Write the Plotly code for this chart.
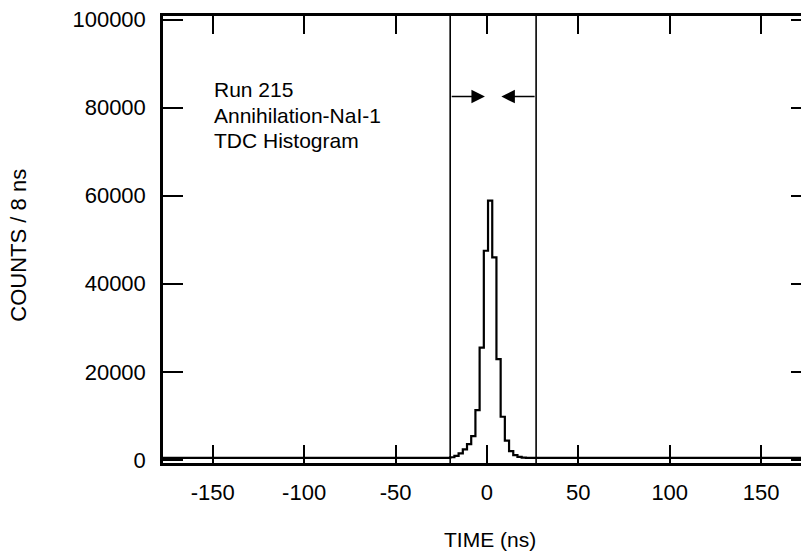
import plotly.graph_objects as go

# ---- data ----
bin_edges = [-177.2, -20.1, -17.8, -15.5, -13.2, -10.9, -8.6, -6.3, -4.0, -1.7, 0.6,
             2.9, 5.2, 7.5, 9.8, 12.1, 14.4, 16.7, 19.0, 21.3, 171.8]
counts = [450, 600, 900, 1500, 2400, 3600, 5400, 11300, 25500, 47500, 58900,
          46000, 22900, 9800, 4400, 2000, 1100, 700, 500, 450]
window_edges = [-20.1, 26.9]
arrow_tips = [-1.1, 7.9]
arrow_level = 82500
x_ticks = [-150, -100, -50, 0, 50, 100, 150]
x_tick_labels = ["-150", "-100", "-50", "0", "50", "100", "150"]
y_ticks = [0, 20000, 40000, 60000, 80000, 100000]
y_tick_labels = ["0", "20000", "40000", "60000", "80000", "100000"]
info_lines = ["Run 215", "Annihilation-NaI-1", "TDC Histogram"]
info_y = [84000, 78300, 72600]

FONT = "Liberation Sans, Arial, Helvetica, sans-serif"
FS = 21
TFS = 22

xs = list(bin_edges)
ys = list(counts) + [counts[-1]]

fig = go.Figure()
fig.add_trace(go.Scatter(x=xs, y=ys, mode="lines", line=dict(shape="hv", color="black", width=2.2),
                         showlegend=False, hoverinfo="skip"))
# invisible trace for right-side mirror ticks
fig.add_trace(go.Scatter(x=[xs[0]], y=[0], yaxis="y2", mode="markers", marker=dict(opacity=0),
                         showlegend=False, hoverinfo="skip"))

for xe in window_edges:
    fig.add_shape(type="line", xref="x", yref="paper", x0=xe, x1=xe, y0=0, y1=1,
                  line=dict(color="black", width=1.6))

for xe, tip in zip(window_edges, arrow_tips):
    fig.add_annotation(x=tip, y=arrow_level, ax=xe, ay=arrow_level, xref="x", yref="y",
                       axref="x", ayref="y", text="", showarrow=True, arrowhead=2,
                       arrowsize=1.8, arrowwidth=1.5, arrowcolor="black", standoff=0, startstandoff=0)

for t, yv in zip(info_lines, info_y):
    fig.add_annotation(x=-150.5, y=yv, xref="x", yref="y", text=t, showarrow=False,
                       xanchor="left", yanchor="middle", font=dict(family=FONT, size=FS, color="black"))

fig.add_annotation(x=0.5125, y=-0.172, xref="paper", yref="paper", text="TIME (ns)", showarrow=False,
                   xanchor="center", yanchor="middle", font=dict(family=FONT, size=FS, color="black"))
fig.add_annotation(x=-0.226, y=0.488, xref="paper", yref="paper", text="COUNTS / 8 ns", showarrow=False,
                   textangle=-90, xanchor="center", yanchor="middle",
                   font=dict(family=FONT, size=22, color="black"))

fig.update_layout(
    width=801, height=558,
    margin=dict(l=163, r=0, t=16, b=95),
    paper_bgcolor="white", plot_bgcolor="white",
    font=dict(family=FONT, size=FS, color="black"),
    xaxis=dict(range=[-177.2, 171.8], tickvals=x_ticks, ticktext=x_tick_labels, ticks="inside",
               ticklen=18, tickwidth=2, tickcolor="black", showline=True, linecolor="black",
               linewidth=2.5, mirror="ticks", showgrid=False, zeroline=False, ticklabelstandoff=8,
               tickfont=dict(family=FONT, size=TFS, color="black")),
    yaxis=dict(range=[-700, 100800], tickvals=y_ticks, ticktext=y_tick_labels, ticks="inside",
               ticklen=20, tickwidth=2, tickcolor="black", showline=True, linecolor="black",
               linewidth=2.5, mirror=False, showgrid=False, zeroline=False, ticklabelstandoff=10,
               tickfont=dict(family=FONT, size=TFS, color="black")),
    yaxis2=dict(overlaying="y", side="right", matches="y", tickvals=y_ticks, ticks="inside",
                ticklen=10, tickwidth=2, tickcolor="black", showticklabels=False, showline=False,
                showgrid=False, zeroline=False),
)

fig.write_html("out.html")
